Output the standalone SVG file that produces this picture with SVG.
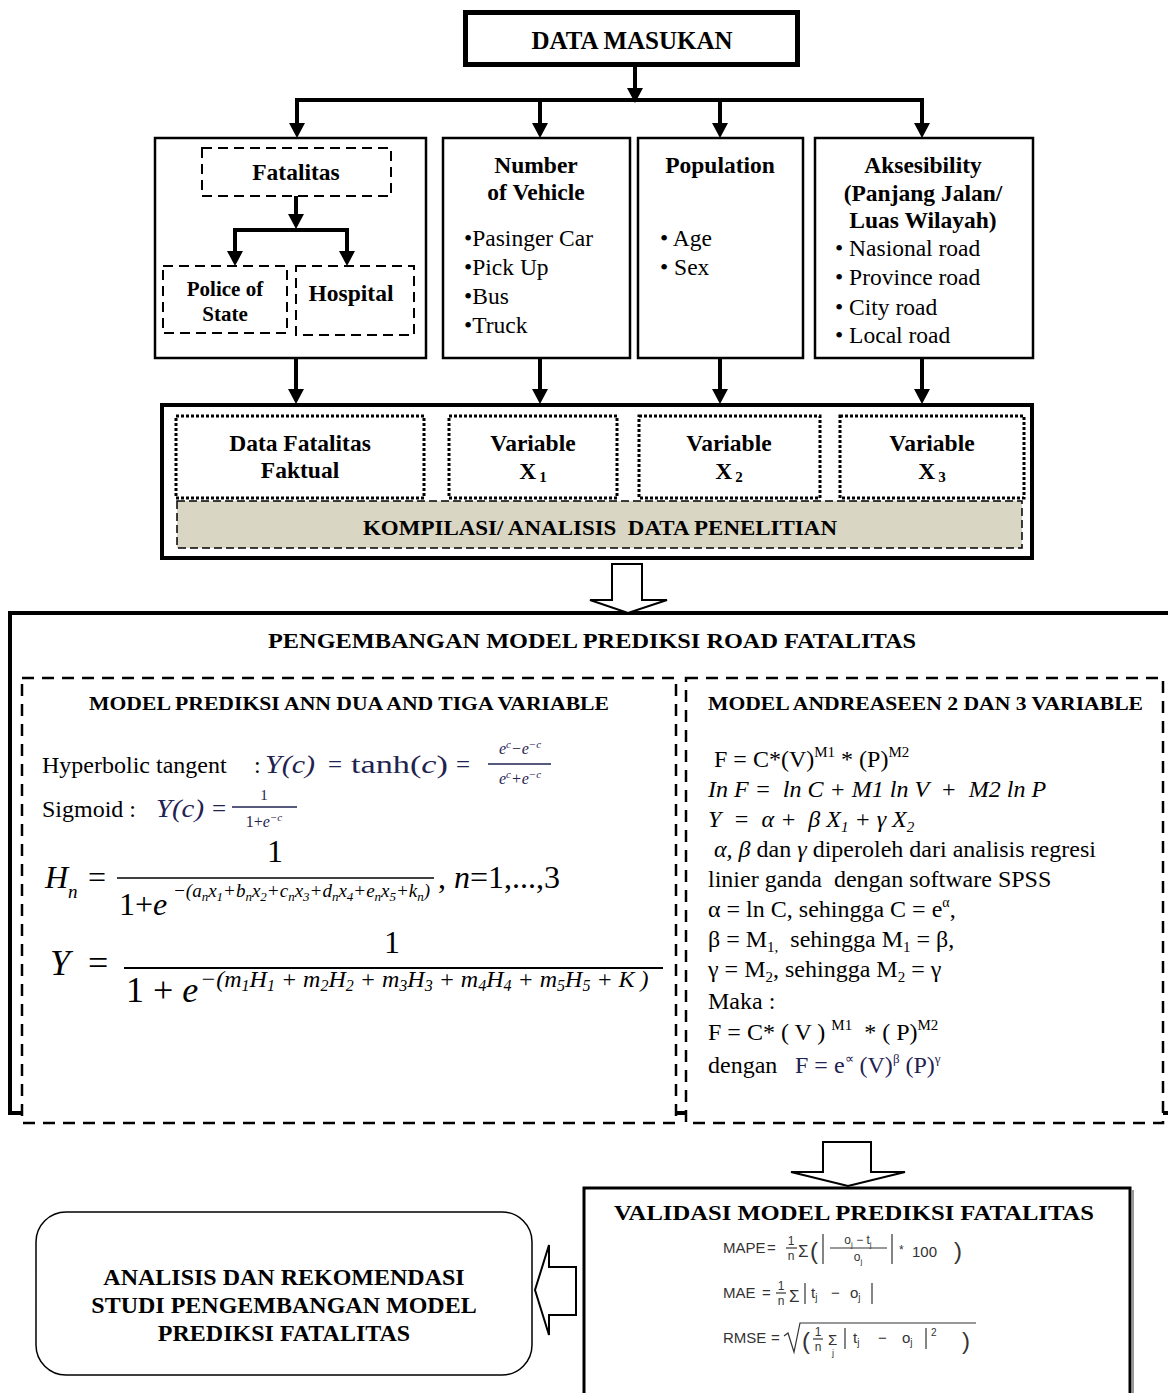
<svg xmlns="http://www.w3.org/2000/svg" width="1168" height="1393" viewBox="0 0 1168 1393">
<defs>
<style>
text{font-family:"Liberation Serif","Times New Roman",serif;fill:#000}
.b{font-weight:bold}
.i{font-style:italic}
.c{text-anchor:middle}
.f23{font-size:23.5px}
.f24{font-size:24px}
.sans{font-family:"Liberation Sans",Arial,sans-serif;fill:#333}
.cm{fill:#1f2350}
.box{fill:#fff;stroke:#000;stroke-width:2.5}
.dash{fill:#fff;stroke:#000;stroke-width:2;stroke-dasharray:10 6}
.dot{fill:none;stroke:#000;stroke-width:3;stroke-dasharray:3 2}
.bigdash{fill:#fff;stroke:#000;stroke-width:2.5;stroke-dasharray:12 8}
.conn{fill:none;stroke:#000;stroke-width:4}
.hollow{fill:#fff;stroke:#000;stroke-width:2;stroke-linejoin:miter}
.frac{stroke:#000;stroke-width:1.5}
.vf{stroke:#333;stroke-width:1.2;fill:none}
</style>
<marker id="ah" markerUnits="userSpaceOnUse" markerWidth="16" markerHeight="16" refX="5" refY="8" orient="auto-start-reverse"><path d="M0,0 L15,8 L0,16 z" fill="#000"/></marker>
</defs>
<rect width="1168" height="1393" fill="#fff"/>

<g id="data-masukan">
<rect x="465.5" y="12.5" width="332" height="52" fill="#fff" stroke="#000" stroke-width="5"/>
<text x="632" y="49" class="b c" font-size="25">DATA MASUKAN</text>
</g>

<g id="fatalitas-box">
<rect class="box" x="155" y="138" width="271" height="220"/>
<g id="fatalitas">
<rect class="dash" x="202" y="148" width="189" height="48"/>
<text x="296" y="180" class="b c f23">Fatalitas</text>
</g>
<g id="police">
<rect class="dash" x="163" y="266" width="124" height="67"/>
<text x="225" y="296" class="b c" font-size="21">Police of</text>
<text x="225" y="321" class="b c" font-size="21">State</text>
</g>
<g id="hospital">
<rect class="dash" x="296" y="266" width="118" height="69"/>
<text x="351" y="301" class="b c f23">Hospital</text>
</g>
</g>

<g id="vehicle">
<rect class="box" x="443" y="138" width="187" height="220"/>
<text x="536" y="173" class="b c f23">Number</text>
<text x="536" y="200" class="b c f23">of Vehicle</text>
<text x="464" y="246" class="f23">•Pasinger Car</text>
<text x="464" y="275" class="f23">•Pick Up</text>
<text x="464" y="304" class="f23">•Bus</text>
<text x="464" y="333" class="f23">•Truck</text>
</g>

<g id="population">
<rect class="box" x="638" y="138" width="165" height="220"/>
<text x="720" y="173" class="b c f23">Population</text>
<text x="660" y="246" class="f23" xml:space="preserve">• Age</text>
<text x="660" y="275" class="f23" xml:space="preserve">• Sex</text>
</g>

<g id="aksesibility">
<rect class="box" x="815" y="138" width="218" height="220"/>
<text x="923" y="173" class="b c f23">Aksesibility</text>
<text x="923" y="201" class="b c f23">(Panjang Jalan/</text>
<text x="923" y="228" class="b c f23">Luas Wilayah)</text>
<text x="835" y="256" class="f23" xml:space="preserve">• Nasional road</text>
<text x="835" y="285" class="f23" xml:space="preserve">• Province road</text>
<text x="835" y="315" class="f23" xml:space="preserve">• City road</text>
<text x="835" y="343" class="f23" xml:space="preserve">• Local road</text>
</g>

<g id="kompilasi">
<rect x="162" y="405" width="870" height="153" fill="#fff" stroke="#000" stroke-width="4"/>
<g id="var-fatal">
<rect class="dot" x="176" y="416" width="248" height="82"/>
<text x="300" y="451" class="b c f23">Data Fatalitas</text>
<text x="300" y="478" class="b c f23">Faktual</text>
</g>
<g id="var-x1">
<rect class="dot" x="449" y="416" width="168" height="82"/>
<text x="533" y="451" class="b c f23">Variable</text>
<text x="533" y="479" class="b c f23">X<tspan dx="3" dy="3" font-size="15">1</tspan></text>
</g>
<g id="var-x2">
<rect class="dot" x="639" y="416" width="181" height="82"/>
<text x="729" y="451" class="b c f23">Variable</text>
<text x="729" y="479" class="b c f23">X<tspan dx="3" dy="3" font-size="15">2</tspan></text>
</g>
<g id="var-x3">
<rect class="dot" x="840" y="416" width="184" height="82"/>
<text x="932" y="451" class="b c f23">Variable</text>
<text x="932" y="479" class="b c f23">X<tspan dx="3" dy="3" font-size="15">3</tspan></text>
</g>
<g id="kompilasi-bar">
<rect x="177" y="501" width="845" height="47" fill="#dad6c4" stroke="#000" stroke-width="1.5" stroke-dasharray="8 4"/>
<text x="600" y="535" class="b c" font-size="22" textLength="474" lengthAdjust="spacingAndGlyphs" xml:space="preserve">KOMPILASI/ ANALISIS  DATA PENELITIAN</text>
</g>
</g>

<g id="pengembangan">
<path d="M1172,613 H10 V1113 H1172" fill="none" stroke="#000" stroke-width="4"/>
<text x="592" y="648" class="b c" font-size="22" textLength="648" lengthAdjust="spacingAndGlyphs">PENGEMBANGAN MODEL PREDIKSI ROAD FATALITAS</text>

<g id="ann">
<rect class="bigdash" x="22" y="678" width="654" height="445"/>
<text x="349" y="710" class="b c" font-size="19" textLength="520" lengthAdjust="spacingAndGlyphs">MODEL PREDIKSI ANN DUA AND TIGA VARIABLE</text>
<text x="42" y="773" class="f24">Hyperbolic tangent</text>
<text x="254" y="773" class="f24">:</text>
<text x="265" y="773" class="cm i" font-size="25" textLength="50" lengthAdjust="spacingAndGlyphs">Y(c)</text>
<text x="328" y="773" class="cm" font-size="25">=</text>
<text x="351" y="773" class="cm" font-size="25" textLength="97" lengthAdjust="spacingAndGlyphs">tanh(<tspan class="i">c</tspan>)</text>
<text x="456" y="773" class="cm" font-size="25">=</text>
<text x="520" y="754" class="cm i c" font-size="16">e<tspan dy="-6" font-size="11">c</tspan><tspan dy="6">−e</tspan><tspan dy="-6" font-size="11">−c</tspan></text>
<line x1="488" y1="764" x2="551" y2="764" stroke="#1f2350" stroke-width="1.3"/>
<text x="520" y="784" class="cm i c" font-size="16">e<tspan dy="-6" font-size="11">c</tspan><tspan dy="6">+e</tspan><tspan dy="-6" font-size="11">−c</tspan></text>

<text x="42" y="817" class="f24" xml:space="preserve">Sigmoid :</text>
<text x="156" y="817" class="cm i" font-size="25" textLength="48" lengthAdjust="spacingAndGlyphs">Y(c)</text>
<text x="212" y="817" class="cm" font-size="25">=</text>
<text x="264" y="800" class="cm c" font-size="15">1</text>
<line x1="232" y1="807" x2="297" y2="807" stroke="#1f2350" stroke-width="1.3"/>
<text x="264" y="827" class="cm c" font-size="16">1+<tspan class="i">e</tspan><tspan class="i" dy="-6" font-size="11">−c</tspan></text>

<text x="45" y="888" class="i" font-size="32">H<tspan font-size="19" dy="10">n</tspan></text>
<text x="88" y="888" font-size="32">=</text>
<text x="275" y="862" class="c" font-size="32">1</text>
<line x1="117" y1="878" x2="434" y2="878" class="frac"/>
<text x="119" y="915" font-size="32">1+<tspan class="i">e</tspan></text>
<text x="173" y="897" font-size="19" class="i">−(a<tspan font-size="13" dy="4">n</tspan><tspan dy="-4">x</tspan><tspan font-size="13" dy="4">1</tspan><tspan dy="-4">+b</tspan><tspan font-size="13" dy="4">n</tspan><tspan dy="-4">x</tspan><tspan font-size="13" dy="4">2</tspan><tspan dy="-4">+c</tspan><tspan font-size="13" dy="4">n</tspan><tspan dy="-4">x</tspan><tspan font-size="13" dy="4">3</tspan><tspan dy="-4">+d</tspan><tspan font-size="13" dy="4">n</tspan><tspan dy="-4">x</tspan><tspan font-size="13" dy="4">4</tspan><tspan dy="-4">+e</tspan><tspan font-size="13" dy="4">n</tspan><tspan dy="-4">x</tspan><tspan font-size="13" dy="4">5</tspan><tspan dy="-4">+k</tspan><tspan font-size="13" dy="4">n</tspan><tspan dy="-4">)</tspan></text>
<text x="438" y="888" font-size="32">, <tspan class="i">n</tspan>=1,...,3</text>

<text x="50" y="975" class="i" font-size="36">Y</text>
<text x="88" y="975" font-size="36">=</text>
<text x="392" y="953" class="c" font-size="32">1</text>
<line x1="124" y1="968" x2="663" y2="968" stroke="#000" stroke-width="2"/>
<text x="126" y="1002" font-size="36" xml:space="preserve">1 + <tspan class="i">e</tspan></text>
<text x="200" y="987" font-size="24" class="i" xml:space="preserve">−(m<tspan font-size="16" dy="4">1</tspan><tspan dy="-4">H</tspan><tspan font-size="16" dy="4">1</tspan><tspan dy="-4"> + m</tspan><tspan font-size="16" dy="4">2</tspan><tspan dy="-4">H</tspan><tspan font-size="16" dy="4">2</tspan><tspan dy="-4"> + m</tspan><tspan font-size="16" dy="4">3</tspan><tspan dy="-4">H</tspan><tspan font-size="16" dy="4">3</tspan><tspan dy="-4"> + m</tspan><tspan font-size="16" dy="4">4</tspan><tspan dy="-4">H</tspan><tspan font-size="16" dy="4">4</tspan><tspan dy="-4"> + m</tspan><tspan font-size="16" dy="4">5</tspan><tspan dy="-4">H</tspan><tspan font-size="16" dy="4">5</tspan><tspan dy="-4"> + K )</tspan></text>
</g>

<g id="andreaseen">
<rect class="bigdash" x="686" y="678" width="477" height="445"/>
<text x="708" y="710" class="b" font-size="19" textLength="435" lengthAdjust="spacingAndGlyphs">MODEL ANDREASEEN 2 DAN 3 VARIABLE</text>
<text x="708" y="767" class="f24" xml:space="preserve"> F = C*(V)<tspan dy="-10" font-size="15">M1</tspan><tspan dy="10"> * (P)</tspan><tspan dy="-10" font-size="15">M2</tspan></text>
<text x="708" y="797" class="f24 i" xml:space="preserve">In F =  ln C + M1 ln V  +  M2 ln P</text>
<text x="708" y="827" class="f24 i" xml:space="preserve">Y  =  α +  β X<tspan dy="5" font-size="15">1</tspan><tspan dy="-5"> + γ X</tspan><tspan dy="5" font-size="15">2</tspan></text>
<text x="708" y="857" class="f24" xml:space="preserve"> <tspan class="i">α, β</tspan> dan <tspan class="i">γ</tspan> diperoleh dari analisis regresi</text>
<text x="708" y="887" class="f24" xml:space="preserve">linier ganda  dengan software SPSS</text>
<text x="708" y="917" class="f24" xml:space="preserve">α = ln C, sehingga C = e<tspan dy="-10" font-size="14">α</tspan><tspan dy="10">,</tspan></text>
<text x="708" y="947" class="f24" xml:space="preserve">β = M<tspan dy="5" font-size="15">1,</tspan><tspan dy="-5">  sehingga M</tspan><tspan dy="5" font-size="15">1</tspan><tspan dy="-5"> = β,</tspan></text>
<text x="708" y="977" class="f24" xml:space="preserve">γ = M<tspan dy="5" font-size="15">2</tspan><tspan dy="-5">, sehingga M</tspan><tspan dy="5" font-size="15">2</tspan><tspan dy="-5"> = γ</tspan></text>
<text x="708" y="1009" class="f24" xml:space="preserve">Maka :</text>
<text x="708" y="1040" class="f24" xml:space="preserve">F = C* ( V ) <tspan dy="-10" font-size="15">M1</tspan><tspan dy="10">  * ( P)</tspan><tspan dy="-10" font-size="15">M2</tspan></text>
<text x="708" y="1073" class="f24" xml:space="preserve">dengan</text>
<text x="795" y="1073" class="cm" font-size="24" xml:space="preserve">F = e<tspan dy="-10" font-size="13">∝</tspan><tspan dy="10"> (V)</tspan><tspan dy="-10" font-size="13">β</tspan><tspan dy="10"> (P)</tspan><tspan dy="-10" font-size="13">γ</tspan></text>
</g>
</g>

<g id="validasi">
<rect x="584" y="1188" width="546" height="230" fill="#fff" stroke="#000" stroke-width="3"/>
<line x1="1133" y1="1190" x2="1133" y2="1393" stroke="#9a9a9a" stroke-width="2"/>
<text x="854" y="1220" class="b c" font-size="22" textLength="480" lengthAdjust="spacingAndGlyphs">VALIDASI MODEL PREDIKSI FATALITAS</text>

<text x="723" y="1253" class="sans" font-size="15">MAPE</text>
<text x="767" y="1253" class="sans" font-size="15">=</text>
<text x="791" y="1245" class="sans c" font-size="12">1</text>
<line x1="786" y1="1248" x2="797" y2="1248" class="vf"/>
<text x="791" y="1260" class="sans c" font-size="12">n</text>
<text x="798" y="1257" class="sans" font-size="17">Σ</text>
<text x="810" y="1259" class="sans" font-size="24">(</text>
<line x1="823" y1="1234" x2="823" y2="1264" class="vf"/>
<text x="858" y="1244" class="sans c" font-size="12" xml:space="preserve">o<tspan dy="3" font-size="8">j</tspan><tspan dy="-3"> − t</tspan><tspan dy="3" font-size="8">j</tspan></text>
<line x1="830" y1="1248" x2="887" y2="1248" class="vf"/>
<text x="858" y="1261" class="sans c" font-size="12">o<tspan dy="3" font-size="8">j</tspan></text>
<line x1="892" y1="1234" x2="892" y2="1264" class="vf"/>
<text x="899" y="1254" class="sans" font-size="12">*</text>
<text x="912" y="1257" class="sans" font-size="15">100</text>
<text x="954" y="1259" class="sans" font-size="24">)</text>

<text x="723" y="1298" class="sans" font-size="15">MAE</text>
<text x="762" y="1298" class="sans" font-size="15">=</text>
<text x="781" y="1290" class="sans c" font-size="12">1</text>
<line x1="776" y1="1293" x2="786" y2="1293" class="vf"/>
<text x="781" y="1305" class="sans c" font-size="12">n</text>
<text x="789" y="1302" class="sans" font-size="17">Σ</text>
<line x1="805" y1="1283" x2="805" y2="1304" class="vf"/>
<text x="811" y="1298" class="sans" font-size="15">t<tspan dy="3" font-size="10">j</tspan></text>
<text x="831" y="1298" class="sans" font-size="15">−</text>
<text x="850" y="1298" class="sans" font-size="15">o<tspan dy="3" font-size="10">j</tspan></text>
<line x1="872" y1="1283" x2="872" y2="1304" class="vf"/>

<text x="723" y="1343" class="sans" font-size="15">RMSE</text>
<text x="771" y="1343" class="sans" font-size="15">=</text>
<path class="vf" d="M784,1336 L788,1333 L794,1352 L800,1323 H976"/>
<text x="802" y="1349" class="sans" font-size="24">(</text>
<text x="818" y="1336" class="sans c" font-size="12">1</text>
<line x1="813" y1="1339" x2="823" y2="1339" class="vf"/>
<text x="818" y="1351" class="sans c" font-size="12">n</text>
<text x="828" y="1345" class="sans" font-size="15">Σ</text>
<text x="832" y="1356" class="sans" font-size="9">j</text>
<line x1="845" y1="1328" x2="845" y2="1349" class="vf"/>
<text x="853" y="1343" class="sans" font-size="15">t<tspan dy="3" font-size="10">j</tspan></text>
<text x="878" y="1343" class="sans" font-size="15">−</text>
<text x="902" y="1343" class="sans" font-size="15">o<tspan dy="3" font-size="10">j</tspan></text>
<line x1="926" y1="1328" x2="926" y2="1349" class="vf"/>
<text x="931" y="1336" class="sans" font-size="10">2</text>
<text x="962" y="1349" class="sans" font-size="24">)</text>
</g>

<g id="analisis">
<rect x="36" y="1212" width="496" height="163" rx="30" ry="30" fill="#fff" stroke="#000" stroke-width="1.5"/>
<text x="284" y="1285" class="b c" font-size="24">ANALISIS DAN REKOMENDASI</text>
<text x="284" y="1313" class="b c" font-size="24">STUDI PENGEMBANGAN MODEL</text>
<text x="284" y="1341" class="b c" font-size="24">PREDIKSI FATALITAS</text>
</g>

<g id="connectors">
<path class="conn" d="M635,67 V93" marker-end="url(#ah)"/>
<path class="conn" d="M297,128 V100 H922 V128" marker-start="url(#ah)" marker-end="url(#ah)"/>
<path class="conn" d="M540,100 V128" marker-end="url(#ah)"/>
<path class="conn" d="M720,100 V128" marker-end="url(#ah)"/>
<path class="conn" d="M296,196 V219" marker-end="url(#ah)"/>
<path class="conn" d="M235,256 V230 H347 V256" marker-start="url(#ah)" marker-end="url(#ah)"/>
<path class="conn" d="M296,358 V394" marker-end="url(#ah)"/>
<path class="conn" d="M540,358 V394" marker-end="url(#ah)"/>
<path class="conn" d="M720,358 V394" marker-end="url(#ah)"/>
<path class="conn" d="M922,358 V394" marker-end="url(#ah)"/>
<polygon class="hollow" points="612,564 642,564 642,600 667,600 628,613 590,600 612,600"/>
<polygon class="hollow" points="823,1142 871,1142 871,1172 905,1172 848,1186 791,1172 823,1172"/>
<polygon class="hollow" points="576,1267 576,1315 549,1315 549,1335 535,1290 549,1245 549,1267"/>
</g>
</svg>
